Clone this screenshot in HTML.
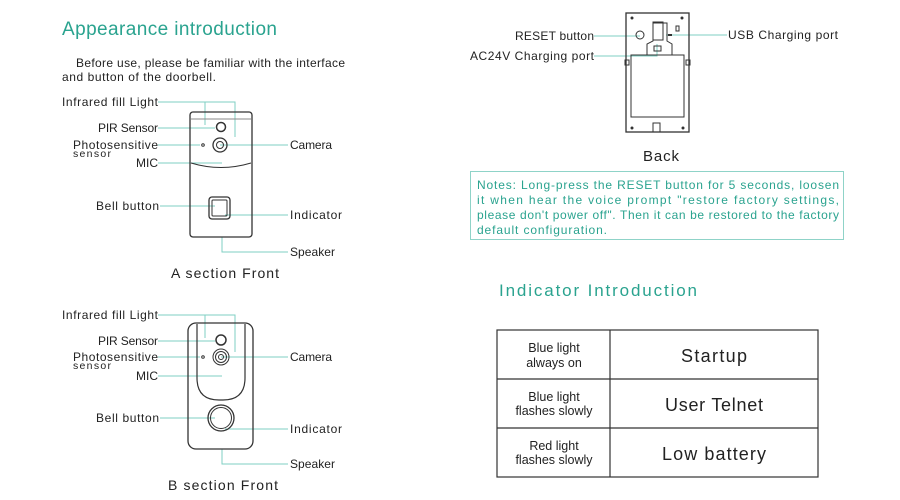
<!DOCTYPE html>
<html><head><meta charset="utf-8"><style>
html,body{margin:0;padding:0;background:#fff}
svg{display:block}
text{font-family:"Liberation Sans",sans-serif;fill:#222}
.l{font-size:12px}
text.t,.n text{fill:#2aa38f}
</style></head><body>
<svg width="900" height="500" viewBox="0 0 900 500" xmlns="http://www.w3.org/2000/svg">
<g stroke="#7fcfc3" stroke-width="1" fill="none">
<polyline points="158,102 235,102 235,137"/>
<polyline points="205,102 205,125"/>
<line x1="158" y1="128" x2="215" y2="128"/>
<line x1="158" y1="145" x2="200" y2="145"/>
<line x1="220" y1="145" x2="288" y2="145"/>
<line x1="158" y1="163" x2="222" y2="163"/>
<line x1="160" y1="206" x2="215" y2="206"/>
<line x1="225" y1="215" x2="288" y2="215"/>
<polyline points="222,237 222,252 288,252"/>
<polyline points="158,315 235,315 235,352"/>
<polyline points="205,315 205,338"/>
<line x1="158" y1="341" x2="215" y2="341"/>
<line x1="158" y1="357" x2="200" y2="357"/>
<line x1="221" y1="357" x2="288" y2="357"/>
<line x1="158" y1="376" x2="222" y2="376"/>
<line x1="160" y1="418" x2="215" y2="418"/>
<line x1="225" y1="429" x2="288" y2="429"/>
<polyline points="222,449 222,464 288,464"/>
<line x1="594" y1="36" x2="640" y2="36"/>
<line x1="666" y1="35" x2="727" y2="35"/>
<polyline points="594,56 657,56 657,44"/>
</g>
<text x="62" y="35" font-size="19" class="t" textLength="215">Appearance introduction</text>
<text x="76" y="67" font-size="12" textLength="269">Before use, please be familiar with the interface</text>
<text x="62" y="81" font-size="12" textLength="154">and button of the doorbell.</text>
<g stroke="#333" fill="none">
<rect x="190" y="112" width="62" height="125" rx="3" stroke-width="1.3"/>
<line x1="191" y1="119" x2="251" y2="119" stroke="#888"/>
<path d="M191,163 Q221,172 251,163" stroke-width="1"/>
<circle cx="221" cy="127" r="4.5" stroke-width="1.5"/>
<circle cx="220" cy="145" r="7" stroke-width="1.3"/>
<circle cx="220" cy="145" r="3.5"/>
<circle cx="203" cy="145" r="1.3"/>
<rect x="209" y="197" width="21" height="22" rx="3" stroke-width="1.3"/>
<rect x="212" y="200" width="15" height="16" rx="1"/>
</g>
<g class="l">
<text x="62" y="106" textLength="96">Infrared fill Light</text>
<text x="98" y="132" textLength="60">PIR Sensor</text>
<text x="73" y="149" textLength="85">Photosensitive</text>
<text x="73" y="157" font-size="10.5" textLength="38">sensor</text>
<text x="136" y="167" textLength="22">MIC</text>
<text x="96" y="210" textLength="63">Bell button</text>
<text x="290" y="149" textLength="42">Camera</text>
<text x="290" y="219" textLength="52">Indicator</text>
<text x="290" y="256" textLength="45">Speaker</text>
</g>
<text x="171" y="278" font-size="14" textLength="108">A section Front</text>
<g stroke="#333" fill="none">
<rect x="188" y="323" width="65" height="126" rx="8" stroke-width="1.3"/>
<path d="M197,324 L197,378 Q197,400 219,400 L223,400 Q245,400 245,378 L245,324" stroke-width="1.2"/>
<circle cx="221" cy="340" r="5" stroke-width="1.5"/>
<circle cx="221" cy="357" r="8"/>
<circle cx="221" cy="357" r="5.5"/>
<circle cx="221" cy="357" r="2.5"/>
<circle cx="203" cy="357" r="1.3"/>
<circle cx="221" cy="418" r="13" stroke-width="1.3"/>
<circle cx="221" cy="418" r="10.5"/>
</g>
<g class="l">
<text x="62" y="319" textLength="96">Infrared fill Light</text>
<text x="98" y="345" textLength="60">PIR Sensor</text>
<text x="73" y="361" textLength="85">Photosensitive</text>
<text x="73" y="369" font-size="10.5" textLength="38">sensor</text>
<text x="136" y="380" textLength="22">MIC</text>
<text x="96" y="422" textLength="63">Bell button</text>
<text x="290" y="361" textLength="42">Camera</text>
<text x="290" y="433" textLength="52">Indicator</text>
<text x="290" y="468" textLength="45">Speaker</text>
</g>
<text x="168" y="490" font-size="14" textLength="110">B section Front</text>
<g stroke="#333" fill="none">
<rect x="626" y="13" width="63" height="119" stroke-width="1.3"/>
<rect x="631" y="55" width="53" height="62"/>
<path d="M647,55 L647,44 L653,41 L653,23 L667,23 L667,41 L672,44 L672,55"/>
<rect x="653" y="22" width="10" height="18"/>
<circle cx="640" cy="35" r="4"/>
<rect x="654" y="46" width="7" height="5"/>
<rect x="676" y="26" width="3" height="5"/>
<rect x="625" y="60" width="4" height="5"/>
<rect x="686" y="60" width="4" height="5"/>
<path d="M653,132 L653,123 L660,123 L660,132"/>
</g>
<g fill="#333"><circle cx="632" cy="18" r="1.5"/><circle cx="682" cy="18" r="1.5"/><circle cx="632" cy="128" r="1.5"/><circle cx="683" cy="128" r="1.5"/><rect x="668" y="34" width="4" height="2"/></g>
<g class="l">
<text x="515" y="40" textLength="79">RESET button</text>
<text x="470" y="60" textLength="124">AC24V Charging port</text>
<text x="728" y="39" textLength="110">USB Charging port</text>
</g>
<text x="643" y="161" font-size="15" textLength="36">Back</text>
<rect x="470.5" y="171.5" width="373" height="68" fill="none" stroke="#8fd3c8"/>
<g font-size="12" class="n">
<text x="477" y="189" textLength="362">Notes: Long-press the RESET button for 5 seconds, loosen</text>
<text x="477" y="204" textLength="362">it when hear the voice prompt "restore factory settings,</text>
<text x="477" y="219" textLength="362">please don't power off". Then it can be restored to the factory</text>
<text x="477" y="234" textLength="130">default configuration.</text>
</g>
<text x="499" y="296" font-size="17" class="t" textLength="198">Indicator Introduction</text>
<g stroke="#333" stroke-width="1.2" fill="none">
<rect x="497" y="330" width="321" height="147"/>
<line x1="610" y1="330" x2="610" y2="477"/>
<line x1="497" y1="379" x2="818" y2="379"/>
<line x1="497" y1="428" x2="818" y2="428"/>
</g>
<g font-size="12.5" text-anchor="middle">
<text x="554" y="352">Blue light</text><text x="554" y="367">always on</text>
<text x="554" y="401">Blue light</text><text x="554" y="415">flashes slowly</text>
<text x="554" y="450">Red light</text><text x="554" y="464">flashes slowly</text>
</g>
<g font-size="18">
<text x="681" y="362" textLength="66">Startup</text>
<text x="665" y="411" textLength="98">User Telnet</text>
<text x="662" y="460" textLength="104">Low battery</text>
</g>
</svg>
</body></html>
